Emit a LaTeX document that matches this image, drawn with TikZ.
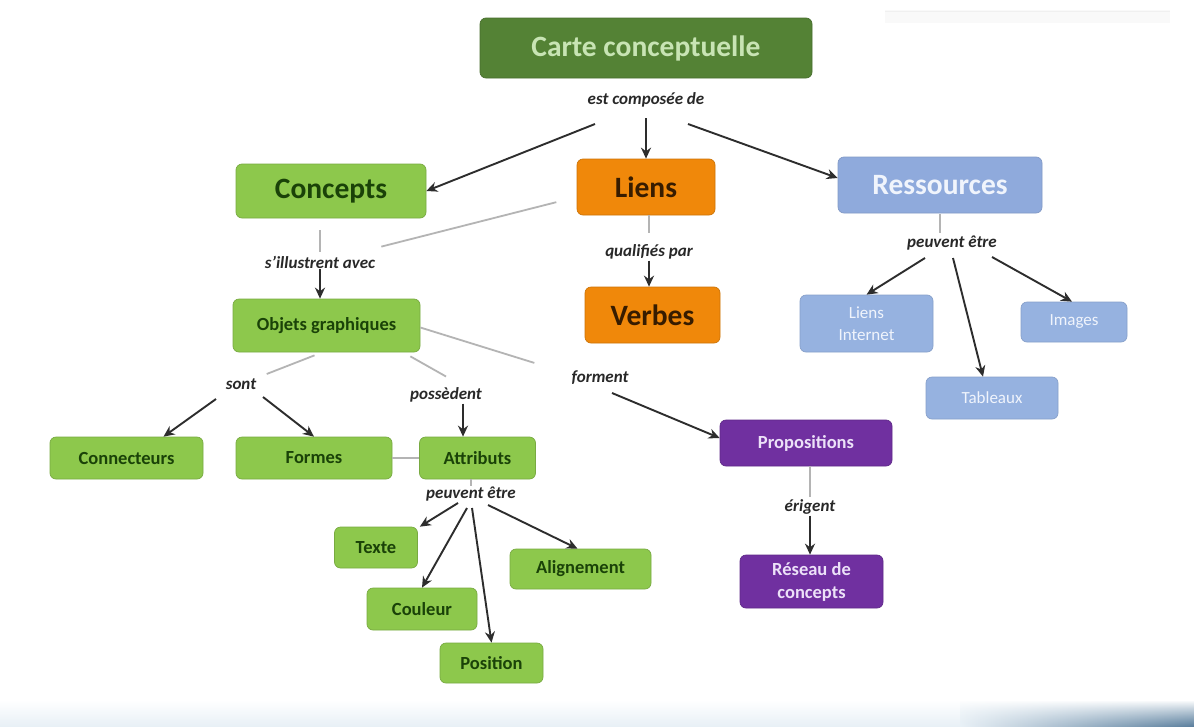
\documentclass[tikz,border=0pt]{standalone}
\usepackage{fontspec}
\setmainfont{Carlito}
\usetikzlibrary{arrows.meta,fadings}
\definecolor{dkgreen}{RGB}{84,130,53}
\definecolor{cartetext}{RGB}{200,228,180}
\definecolor{lgreen}{RGB}{141,200,76}
\definecolor{gtext}{RGB}{26,66,8}
\definecolor{orng}{RGB}{240,136,10}
\definecolor{otext}{RGB}{55,28,0}
\definecolor{lblue}{RGB}{143,170,220}
\definecolor{sblue}{RGB}{150,178,224}
\definecolor{btext}{RGB}{240,244,252}
\definecolor{purp}{RGB}{112,48,160}
\definecolor{ptext}{RGB}{236,225,248}
\definecolor{labcol}{RGB}{40,40,40}
\definecolor{lgray}{RGB}{180,180,180}
\definecolor{dgray}{RGB}{45,45,45}
\definecolor{bandl}{RGB}{232,240,246}
\definecolor{bandr}{RGB}{92,128,158}
\begin{document}
\begin{tikzpicture}[x=1pt,y=-1pt,
  box/.style={rounded corners=6pt, align=center, inner sep=2pt, line width=0.7pt},
  bigf/.style={font=\fontsize{29.5}{32}\selectfont\bfseries},
  smallf/.style={font=\fontsize{18.5}{21}\selectfont\bfseries},
  cartebox/.style={box, bigf, fill=dkgreen, draw=dkgreen!85!black, text=cartetext},
  gbig/.style={box, bigf, fill=lgreen, draw=lgreen!85!black, text=gtext},
  gsmall/.style={box, smallf, fill=lgreen, draw=lgreen!85!black, text=gtext},
  obig/.style={box, bigf, fill=orng, draw=orng!85!black, text=otext},
  bbig/.style={box, bigf, fill=lblue, draw=lblue!90!black, text=btext},
  bsmall/.style={box, font=\fontsize{17}{20}\selectfont, fill=sblue, draw=sblue!90!black, text=btext},
  pbox/.style={box, smallf, fill=purp, draw=purp!85!black, text=ptext},
  lab/.style={font=\fontsize{17}{20}\selectfont\bfseries\itshape, text=labcol, inner sep=1pt},
  ln/.style={draw=lgray, line width=1.8pt},
  arr/.style={draw=dgray, line width=1.9pt, -{Stealth[length=11pt,width=10pt]}}
]
\useasboundingbox (0,0) rectangle (1194,726);
\fill[white] (0,0) rectangle (1194,726);
% faint top-right bar
\fill[gray!5] (885,10) rectangle (1170,23);
\draw[gray!12, line width=0.6pt] (885,11) -- (1170,11);
% bottom band
\shade[top color=white, bottom color=bandl] (0,700) rectangle (1194,726);
\shade[left color=bandl, right color=bandr, path fading=north] (960,700) rectangle (1194,726);

% ---- nodes ----
\node[cartebox, minimum width=332, minimum height=60] (carte) at (646,48) {Carte conceptuelle};
\node[gbig, minimum width=190, minimum height=54] (concepts) at (331,191) {Concepts};
\node[obig, minimum width=138, minimum height=56] (liens) at (646,187) {Liens};
\node[bbig, minimum width=204, minimum height=56] (ressources) at (940,185) {Ressources};
\node[obig, minimum width=135, minimum height=56] (verbes) at (652.5,315) {Verbes};
\node[gsmall, minimum width=187, minimum height=53] (objets) at (326.5,325.5) {Objets graphiques};
\node[gsmall, minimum width=153, minimum height=42] (connecteurs) at (126.5,458) {Connecteurs};
\node[gsmall, minimum width=156, minimum height=42] (formes) at (314,458) {Formes};
\node[gsmall, minimum width=116, minimum height=42] (attributs) at (477.5,458) {Attributs};
\node[gsmall, minimum width=83, minimum height=41] (texte) at (376,547.5) {Texte};
\node[gsmall, minimum width=110, minimum height=42] (couleur) at (422,609) {Couleur};
\node[gsmall, minimum width=103, minimum height=40] (position) at (491.5,663) {Position};
\node[gsmall, minimum width=141, minimum height=40] (alignement) at (580.5,569) {Alignement};
\node[pbox, minimum width=172, minimum height=46] (propositions) at (806,443) {Propositions};
\node[pbox, minimum width=143, minimum height=53, font=\fontsize{18.5}{23}\selectfont\bfseries] (reseau) at (811.5,581.5) {Réseau de\\concepts};
\node[bsmall, minimum width=133, minimum height=57, font=\fontsize{17}{22}\selectfont] (lienint) at (866.5,323.5) {Liens\\Internet};
\node[bsmall, minimum width=106, minimum height=40] (images) at (1074,322) {Images};
\node[bsmall, minimum width=132, minimum height=42] (tableaux) at (992,398) {Tableaux};

% ---- linking phrases ----
\node[lab] (l1) at (646,100) {est composée de};
\node[lab] (l2) at (320,262) {s'illustrent avec};
\node[lab] (l3) at (649,252) {qualifiés par};
\node[lab] (l4) at (952,243) {peuvent être};
\node[lab] (l5) at (241,384) {sont};
\node[lab] (l6) at (446,395) {possèdent};
\node[lab] (l7) at (600,378) {forment};
\node[lab] (l8) at (471,494) {peuvent être};
\node[lab] (l9) at (810,507) {érigent};

% ---- start points of arrows ----
\coordinate (l1a) at (595,124);
\coordinate (l1b) at (646,118);
\coordinate (l1c) at (688,124);
\coordinate (l4a) at (925,258);
\coordinate (l4b) at (953,258);
\coordinate (l4c) at (992,257);
\coordinate (l5a) at (216,399);
\coordinate (l5b) at (263,397);
\coordinate (l7a) at (612,393);
\coordinate (l8a) at (458,503);
\coordinate (l8b) at (467,508);
\coordinate (l8c) at (472,508);
\coordinate (l8d) at (488,505);

% ---- connectors ----
\draw[arr] (l1a) -- (concepts.east);
\draw[arr] (l1b) -- (liens.north);
\draw[arr] (l1c) -- ([yshift=7pt]ressources.west);

\draw[ln, shorten <=3pt, shorten >=12pt] (l2.north) -- (l2.north |- concepts.south);
\draw[arr] (l2.south) -- (l2.south |- objets.north);
\draw[ln, shorten <=21pt] ([yshift=-10pt]liens.west) -- ([xshift=5pt,yshift=8pt]l2.north east);

\draw[ln, shorten >=10pt] (l3.north |- liens.south) -- (l3.north);
\draw[arr] (l3.south) -- (l3.south |- verbes.north);

\draw[ln, shorten <=1pt, shorten >=2pt] (ressources.south) -- (ressources.south |- l4.north);
\draw[arr] (l4a) -- (lienint.north);
\draw[arr] (l4b) -- ([xshift=-9pt]tableaux.north);
\draw[arr] (l4c) -- ([xshift=-2pt]images.north);

\draw[ln, shorten >=10pt] ([xshift=-12pt,yshift=-3pt]objets.south) -- (l5);
\draw[arr] (l5a) -- ([xshift=37pt]connecteurs.north);
\draw[arr] (l5b) -- (formes.north);

\draw[ln] ([xshift=-10pt,yshift=-4pt]objets.south east) -- ([yshift=10pt]l6.north);
\draw[arr] ([xshift=17pt]l6.south) -- ([xshift=17pt]l6.south |- attributs.north);
\draw[ln] (formes.east) -- (attributs.west);

\draw[ln] ([yshift=-2pt]objets.east) -- ([xshift=-36pt,yshift=7pt]l7.north west);
\draw[arr] (l7a) -- ([yshift=5pt]propositions.west);

\draw[ln] (l8.north |- attributs.south) -- (l8.north);
\draw[arr] (l8a) -- ([xshift=2pt]texte.north east);
\draw[arr] (l8b) -- (couleur.north);
\draw[arr] (l8c) -- (position.north);
\draw[arr] (l8d) -- ([xshift=-3pt]alignement.north);

\draw[ln, shorten >=1pt] (l9.north |- propositions.south) -- (l9.north);
\draw[arr] (l9.south) -- (l9.south |- reseau.north);
\end{tikzpicture}
\end{document}
